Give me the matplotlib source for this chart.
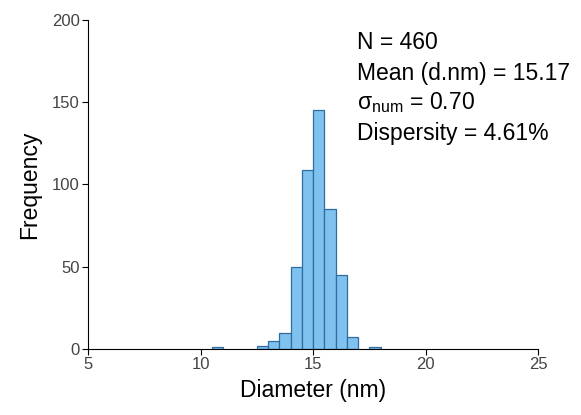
import matplotlib
matplotlib.use("Agg")
import matplotlib.pyplot as plt

plt.rcParams['font.family'] = ['Liberation Sans', 'DejaVu Sans']
plt.rcParams['mathtext.fontset'] = 'custom'
plt.rcParams['mathtext.rm'] = 'Liberation Sans'
plt.rcParams['mathtext.it'] = 'Liberation Sans:italic'

# histogram bins (left edges, nm) and counts
bin_left = [10.5, 12.5, 13.0, 13.5, 14.0, 14.5, 15.0, 15.5, 16.0, 16.5, 17.5]
counts = [1, 2, 5, 10, 50, 109, 145, 85, 45, 7, 1]
bin_width = 0.5

stats_lines = ["N = 460", "Mean (d.nm) = 15.17",
               "σ$_{\\rm num}$ = 0.70", "Dispersity = 4.61%"]

fig = plt.figure(figsize=(5.81, 4.15), dpi=100)
ax = fig.add_axes([0.1515, 0.159, 0.7745, 0.793])

ax.bar(bin_left, counts, width=bin_width, align='edge',
       color='#80c2ef', edgecolor='#2f6d9e', linewidth=0.9)

ax.set_xlim(5, 25)
ax.set_ylim(0, 200)
ax.set_xticks([5, 10, 15, 20, 25])
ax.set_yticks([0, 50, 100, 150, 200])
ax.spines['top'].set_visible(False)
ax.spines['right'].set_visible(False)
ax.tick_params(direction='out', length=4, labelsize=12, labelcolor='#444444', pad=2)
ax.set_xlabel("Diameter (nm)", fontsize=16.5, labelpad=5)
ax.set_ylabel("Frequency", fontsize=16.5, labelpad=8)

ys = [0.932, 0.837, 0.75, 0.655]
for s, y in zip(stats_lines, ys):
    ax.text(0.598, y, s, transform=ax.transAxes, fontsize=16.5, va='center')

fig.savefig("out.png", dpi=100)
